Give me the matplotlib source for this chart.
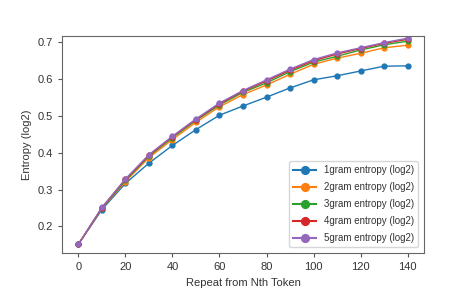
import numpy as np
import matplotlib.pyplot as plt

plt.rcParams['font.family'] = ['Liberation Sans', 'DejaVu Sans']

# repeat offsets ................................................................
repeat = [0, 10, 20, 30, 40, 50, 60, 70, 80, 90, 100, 110, 120, 130, 140]

gram1 = [0.152, 0.246, 0.317, 0.372, 0.420, 0.463, 0.502, 0.527, 0.551, 0.576, 0.598, 0.609, 0.622, 0.635, 0.636]
gram2 = [0.152, 0.249, 0.322, 0.387, 0.436, 0.483, 0.525, 0.558, 0.584, 0.613, 0.640, 0.657, 0.670, 0.685, 0.692]
gram3 = [0.152, 0.250, 0.325, 0.391, 0.441, 0.488, 0.530, 0.564, 0.590, 0.620, 0.646, 0.662, 0.679, 0.693, 0.703]
gram4 = [0.152, 0.251, 0.328, 0.393, 0.444, 0.490, 0.533, 0.567, 0.595, 0.624, 0.650, 0.668, 0.683, 0.697, 0.708]
gram5 = [0.152, 0.252, 0.329, 0.395, 0.445, 0.492, 0.535, 0.569, 0.598, 0.627, 0.653, 0.671, 0.685, 0.699, 0.711]

series = [gram1, gram2, gram3, gram4, gram5]
labels = ['1gram entropy (log2)', '2gram entropy (log2)', '3gram entropy (log2)',
          '4gram entropy (log2)', '5gram entropy (log2)']

fig = plt.figure(figsize=(4.73, 2.98), dpi=100)
ax = fig.add_axes([62/473, 1 - 253/298, (424-62)/473, (253-36)/298])

for vals, lab in zip(series, labels):
    ax.plot(repeat, vals, marker='o', markersize=3.5, linewidth=1, label=lab)

txt = '#333333'
for sp in ax.spines.values():
    sp.set_color('#666666')
ax.tick_params(colors='#555555', labelcolor=txt, labelsize=8, length=3)
ax.set_xticks(np.arange(0, 141, 20))
ax.set_xlabel('Repeat from Nth Token', fontsize=8, color=txt)
ax.set_ylabel('Entropy (log2)', fontsize=8, color=txt)
ax.set_xlim(-7, 147)
ax.set_ylim(0.128, 0.717)

# legend with bigger handles like the original ..................................
leg = ax.legend(loc='lower right', fontsize=7, labelcolor=txt, markerscale=1.6,
                handlelength=2.4, labelspacing=0.72, borderaxespad=0.6)
for h in leg.legend_handles:
    h.set_linewidth(1.5)

fig.savefig('out.png', dpi=100)
